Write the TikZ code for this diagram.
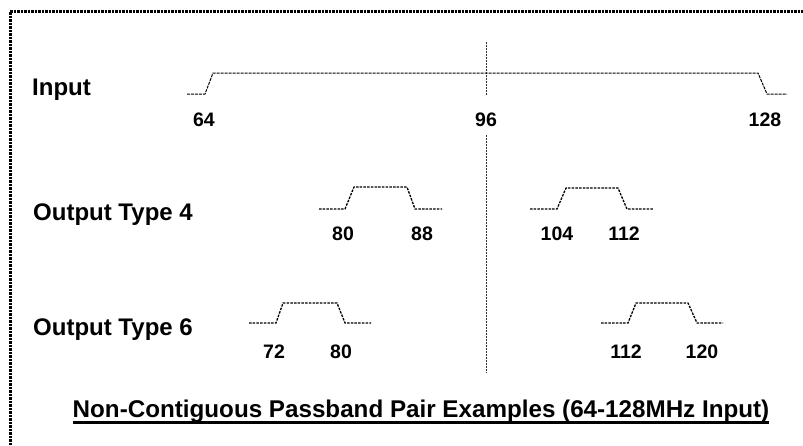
\documentclass[tikz,border=0pt]{standalone}
\usepackage{fontspec}
\setmainfont{Liberation Sans}
\begin{document}
\begin{tikzpicture}[x=1pt,y=-1pt,
  lbl/.style={inner sep=0pt,anchor=base west,font=\fontsize{24}{28}\selectfont\bfseries},
  num/.style={inner sep=0pt,anchor=base,font=\fontsize{19.5}{23}\selectfont\bfseries},
  ttl/.style={inner sep=0pt,anchor=base,font=\fontsize{24.2}{28}\selectfont\bfseries},
  border/.style={line width=3pt,dash pattern=on 2.5pt off 1pt},
  inwave/.style={line width=1pt,dash pattern=on 3pt off 1pt},
  pulse/.style={line width=1.3pt,dash pattern=on 2.5pt off 1.2pt},
  vline/.style={line width=0.8pt,black!80,dash pattern=on 2pt off 1pt}]
\useasboundingbox (0,0) rectangle (803,445);
\begin{scope}
\clip (0,0) rectangle (803,445);
\draw[border] (10,445) -- (10,11) -- (803,11);
\end{scope}
% labels
\node[lbl] (in) at (32,95) {Input};
\node[lbl] (o4) at (33,220) {Output Type 4};
\node[lbl] (o6) at (33,335) {Output Type 6};
% numbers
\node[num] (n64) at (204,126) {64};
\node[num] (n96) at (486,126) {96};
\node[num] (n128) at (765,126) {128};
\node[num] (a80) at (343,240) {80};
\node[num] (a88) at (422,240) {88};
\node[num] (a104) at (557,240) {104};
\node[num] (a112) at (624,240) {112};
\node[num] (b72) at (274,358) {72};
\node[num] (b80) at (341,358) {80};
\node[num] (b112) at (626,358) {112};
\node[num] (b120) at (702,358) {120};
% vertical divider
\coordinate (v1) at (486,42);
\coordinate (v2) at (486,95);
\coordinate (v3) at (486,135);
\coordinate (v4) at (486,373);
\draw[vline] (v1) -- (v2);
\draw[vline] (v3) -- (v4);
% input trace
\draw[inwave] (187,94) -- (205,94) -- (213,73) -- (758,73) -- (767,94) -- (787,94);
% type 4 pulses
\draw[pulse] (319,209) -- (345,209) -- (354,187) -- (407,187) -- (415,209) -- (442,209);
\draw[pulse] (530,209) -- (557,209) -- (566,188) -- (618,188) -- (627,209) -- (653,209);
% type 6 pulses
\draw[pulse] (249,323) -- (276,323) -- (283,303) -- (337,303) -- (345,323) -- (371,323);
\draw[pulse] (601,323) -- (628,323) -- (636,303) -- (688,303) -- (697,323) -- (723,323);
% title
\node[ttl] (title) at (421,417) {Non-Contiguous Passband Pair Examples (64-128MHz Input)};
\draw[line width=2.2pt] ([yshift=-5.5pt]title.base west) -- ([yshift=-5.5pt]title.base east);
\end{tikzpicture}
\end{document}
